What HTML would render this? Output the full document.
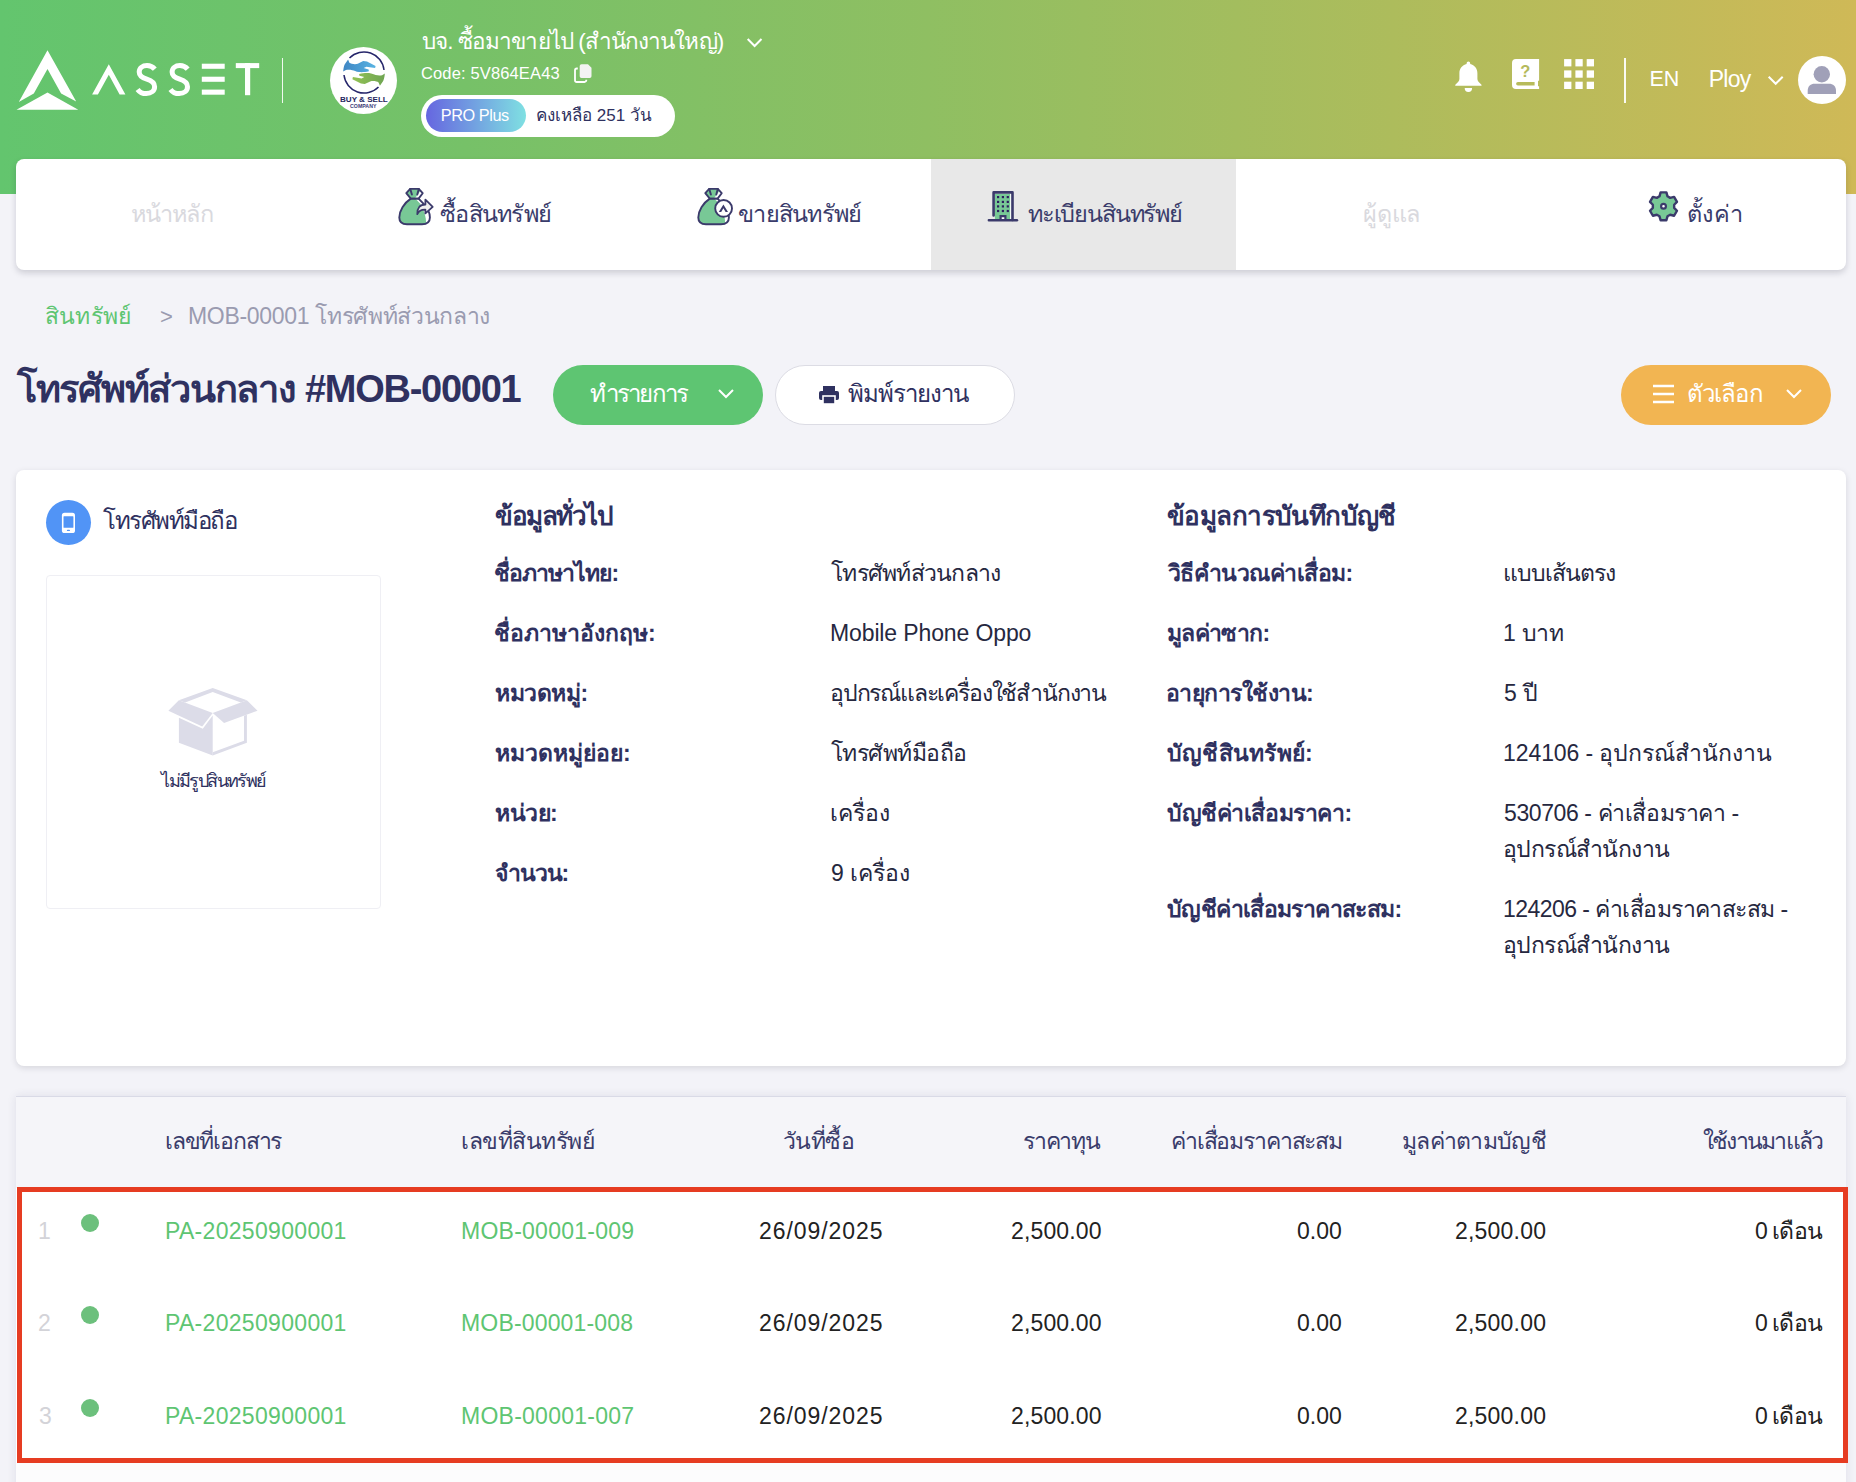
<!DOCTYPE html>
<html lang="th">
<head>
<meta charset="utf-8">
<title>Asset</title>
<style>
*{box-sizing:border-box;margin:0;padding:0}
html,body{width:1856px;height:1482px;overflow:hidden;background:#f3f3f8;font-family:"Liberation Sans",sans-serif;color:#2f3160}
.abs{position:absolute;white-space:nowrap}
.t{position:absolute;white-space:nowrap}
#hdr{position:absolute;left:0;top:0;width:1856px;height:194px;background:linear-gradient(90deg,#63c56e 0%,#76c168 25%,#8fbf62 50%,#adbc5c 75%,#cfb957 100%)}
#nav{position:absolute;left:16px;top:159px;width:1830px;height:111px;background:#fff;border-radius:8px;box-shadow:0 3px 6px rgba(20,20,40,.17);overflow:hidden}
.card{position:absolute;left:16px;width:1830px;background:#fff;border-radius:8px;box-shadow:0 2px 6px rgba(20,20,40,.13)}
.btn{position:absolute;top:365px;height:60px;border-radius:30px}

</style>
</head>
<body>
<div id="hdr"></div>
<!-- LOGO -->
<svg class="abs" style="left:14px;top:46px" width="250" height="70" viewBox="14 46 250 70">
  <g fill="#fff">
  <path d="M47.5 50.2 L76.2 101.6 L61.1 93.6 L47.5 69.1 L33.8 93.6 L18.8 102 Z"/>
  <path d="M47.5 92.4 L78.3 109.8 L16.500 109.8 Z"/>
  <path d="M108.8 64.2 L125.4 94.4 L119.6 94.4 L108.8 74.7 L97.9 94.4 L92.100 94.4 Z"/>
  <rect x="201.8" y="63.7" width="22.900" height="5.100"/><rect x="201.8" y="76.7" width="22.900" height="5.100"/><rect x="201.8" y="89.6" width="22.900" height="5.100"/>
  <rect x="235.8" y="63.100" width="23.400" height="5"/><rect x="245" y="63.100" width="5.200" height="32.100"/>
  </g>
  <g fill="none" stroke="#fff" stroke-width="5">
    <path id="sS" d="M154.8 69.2 C152.8 66.8 150 65.6 147 65.6 C142.4 65.6 139.2 68.2 139.2 72 C139.2 76 142.300 77.8 146.8 79.2 C151.500 80.7 154.6 82.6 154.6 86.7 C154.6 90.8 151.2 93.6 146.300 93.6 C142.6 93.6 139.500 92 137.6 89.4"/>
    <path transform="translate(32.9 0)" d="M154.8 69.2 C152.8 66.8 150 65.6 147 65.6 C142.4 65.6 139.2 68.2 139.2 72 C139.2 76 142.300 77.8 146.8 79.2 C151.500 80.7 154.6 82.6 154.6 86.7 C154.6 90.8 151.2 93.6 146.300 93.6 C142.6 93.6 139.500 92 137.6 89.4"/>
  </g>
</svg>
<div class="abs" style="left:281.500px;top:58px;width:1.800px;height:45px;background:rgba(255,255,255,.9)"></div>

<!-- COMPANY LOGO -->
<div class="abs" style="left:330px;top:47px;width:67px;height:67px;border-radius:50%;background:#fff"></div>
<svg class="abs" style="left:330px;top:47px" width="67" height="67" viewBox="0 0 67 67">
  <defs>
    <linearGradient id="gb" x1="0" x2="1"><stop offset="0" stop-color="#3f86c4"/><stop offset="1" stop-color="#58b3e2"/></linearGradient>
    <linearGradient id="gg" x1="0" x2="1"><stop offset="0" stop-color="#6fa552"/><stop offset="1" stop-color="#93c255"/></linearGradient>
  </defs>
  <path d="M19.500 11 A20.200 20.200 0 0 1 54 23" fill="none" stroke="#25256a" stroke-width="1.500"/>
  <path d="M48.500 40 A20.200 20.200 0 0 1 14 28" fill="none" stroke="#25256a" stroke-width="1.500"/>
  <path id="hnd" d="M18.100 12.400 L19.400 15.700 C21 17 25 17.600 27.800 16.800 L33.200 14.100 L37 14.600 L45.600 18.900 L45.100 21.100 L36.400 19.700 L33.700 21.100 L38.600 22.400 L38.900 24.300 C35 25.200 32 25.300 28.900 25.100 C26 24.500 24 23.500 22.400 23.200 C20 22.600 17.500 22.600 15.900 23 L13.200 24.600 C13.400 21 14 19 14.800 17.300 Z" fill="url(#gb)"/>
  <path d="M18.100 12.400 L19.400 15.700 C21 17 25 17.600 27.800 16.800 L33.200 14.100 L37 14.600 L45.600 18.900 L45.100 21.100 L36.400 19.700 L33.700 21.100 L38.600 22.400 L38.900 24.300 C35 25.200 32 25.300 28.900 25.100 C26 24.500 24 23.500 22.400 23.200 C20 22.600 17.500 22.600 15.900 23 L13.200 24.600 C13.400 21 14 19 14.800 17.300 Z" fill="url(#gg)" transform="rotate(180 34 25.600)"/>
  <text x="10" y="54.600" font-family="Liberation Sans, sans-serif" font-weight="bold" font-size="7.600" textLength="47.800" lengthAdjust="spacingAndGlyphs" fill="#25255e">BUY &amp; SELL</text>
  <text x="20.100" y="60.800" font-family="Liberation Sans, sans-serif" font-weight="bold" font-size="4.800" textLength="26.300" lengthAdjust="spacingAndGlyphs" fill="#3a3a78">COMPANY</text>
</svg>



<svg class="abs" style="left:745px;top:36px" width="19" height="13" viewBox="0 0 19 13"><path d="M2.7 3 L9.6 10 L16.5 3" fill="none" stroke="#fff" stroke-width="2"/></svg>
<svg class="abs" style="left:574px;top:63px" width="19" height="20" viewBox="0 0 19 20"><path d="M7.5 1.2 H14 L17.5 4.7 V13.2 A1.8 1.8 0 0 1 15.7 15 H7.5 A1.8 1.8 0 0 1 5.7 13.200 V3 A1.800 1.800 0 0 1 7.500 1.200 Z" fill="#f3f3f3"/><path d="M3.800 5.500 H2.800 A1.800 1.800 0 0 0 1 7.300 V17.200 A1.800 1.800 0 0 0 2.800 19 H10.500 A1.800 1.800 0 0 0 12.300 17.200 V16.800" fill="none" stroke="#fff" stroke-width="1.800"/></svg>
<div class="abs" style="left:421px;top:95px;width:254px;height:42px;border-radius:21px;background:#fff"></div>
<div class="abs" style="left:425.500px;top:99px;width:100px;height:33px;border-radius:17px;background:linear-gradient(90deg,#6666e0,#7fe0e2)"></div>
<svg class="abs" style="left:1454px;top:61px" width="29" height="32" viewBox="1454 61 29 32"><path d="M1468.4 61.500 a1.800 1.800 0 0 1 1.800 1.800 v0.700 c4.400 1 7.200 4.600 7.200 9.200 v5.500 c0 2 1.200 3.400 3.600 5.600 c1.200 1.100 0.600 1.500 -0.600 1.500 h-24 c-1.200 0 -1.800 -0.400 -0.600 -1.500 c2.400 -2.200 3.600 -3.600 3.600 -5.600 v-5.500 c0 -4.600 2.800 -8.200 7.200 -9.200 v-0.700 a1.800 1.800 0 0 1 1.800 -1.800 z M1464.700 88 h7.400 a3.700 3.900 0 0 1 -7.400 0 z" fill="#fff"/></svg>
<svg class="abs" style="left:1511px;top:58px" width="30" height="32" viewBox="1511 58 30 32"><path d="M1516 58.900 H1539.100 V80.800 H1538 V86.200 H1539.100 V89.100 H1516 A4 4 0 0 1 1512 85.100 V62.900 A4 4 0 0 1 1516 58.900 Z M1517.900 81.900 a1.800 1.800 0 0 0 0 3.600 H1534.600 V81.900 Z" fill="#fff" fill-rule="evenodd"/><text x="1525.300" y="76.600" font-family="Liberation Sans, sans-serif" font-weight="bold" font-size="16.500" text-anchor="middle" fill="#b5ba5c">?</text></svg>
<svg class="abs" style="left:1563px;top:58px" width="32" height="32" viewBox="1563 58 32 32" fill="#fff"><rect x="1564.1" y="59.1" width="7.300" height="7.300"/><rect x="1575.4" y="59.1" width="7.300" height="7.300"/><rect x="1586.7" y="59.1" width="7.300" height="7.300"/><rect x="1564.1" y="70.4" width="7.300" height="7.300"/><rect x="1575.4" y="70.4" width="7.300" height="7.300"/><rect x="1586.7" y="70.4" width="7.300" height="7.300"/><rect x="1564.1" y="81.7" width="7.300" height="7.300"/><rect x="1575.4" y="81.7" width="7.300" height="7.300"/><rect x="1586.7" y="81.7" width="7.300" height="7.300"/></svg>
<div class="abs" style="left:1624.300px;top:58px;width:1.900px;height:45px;background:rgba(255,255,255,.92)"></div>
<svg class="abs" style="left:1766px;top:74px" width="19" height="13" viewBox="0 0 19 13"><path d="M2.700 2.700 L9.700 9.800 L16.700 2.700" fill="none" stroke="#fff" stroke-width="2"/></svg>
<div class="abs" style="left:1798px;top:56px;width:48px;height:48px;border-radius:50%;background:#fff"></div>
<svg class="abs" style="left:1798px;top:56px" width="48" height="48" viewBox="0 0 48 48"><circle cx="23.800" cy="18.200" r="8.200" fill="#a0a0b8"/><path d="M9.700 38 v-3.300 c0 -4.500 3 -7 7 -7 h14.300 c4 0 7 2.500 7 7 v3.300 z" fill="#a0a0b8"/></svg>


<div id="nav"><div class="abs" style="left:915px;top:0;width:305px;height:111px;background:#e8e8e8"></div></div>
<svg class="abs" style="left:396px;top:185px" width="40" height="42" viewBox="0 0 40 42"><path d="M14.8 13.6 C8 18 3.3 26 3.3 32.5 C3.3 37 6.5 39.2 11 39.2 H26 C31 39.2 33.9 37 33.9 32.5 C33.9 28 31.5 23 27.4 18.7 L22.6 13.6 Z" fill="#fff"/><path d="M14.8 13.6 C8 18 3.3 26 3.3 32.5 C3.3 37 6.5 39.2 11 39.2 H26 C27.6 39.2 29 39 30.2 38.4 C30 32 28.3 25.5 24 18.6 L19.2 13.6 Z" fill="#78c896"/><path d="M14.8 13.6 L10.3 8.2 L14.2 3.9 H22.8 L26.7 8.2 L22.6 13.6 Z" fill="#fff"/><path d="M14.8 13.6 L10.3 8.2 L14.2 3.9 H22.8 L24.5 5.8 L18.9 13.6 Z" fill="#78c896"/><path d="M14.8 13.6 C8 18 3.3 26 3.3 32.5 C3.3 37 6.5 39.2 11 39.2 H26 C31 39.2 33.9 37 33.9 32.5 C33.9 28 31.5 23 27.4 18.7 L22.6 13.6 Z" fill="none" stroke="#3b3a6b" stroke-width="1.9" stroke-linejoin="round"/><path d="M14.8 13.6 L10.3 8.2 L14.2 3.9 H22.8 L26.7 8.2 L22.6 13.6 Z" fill="none" stroke="#3b3a6b" stroke-width="1.9" stroke-linejoin="round"/><path d="M14.2 3.9 L15.9 9.5 M22.8 3.9 L21.3 9.5" fill="none" stroke="#3b3a6b" stroke-width="1.9" stroke-linecap="round"/><path d="M29.4 14.7 L36.7 21.9 L29.4 28.4 V24.7 C25 24.5 22.5 26.5 21.3 29.1 C21 23 24 19.5 29.4 19.5 Z" fill="#efefef" stroke="#3b3a6b" stroke-width="1.8" stroke-linejoin="round"/></svg>
<svg class="abs" style="left:695px;top:185px" width="40" height="42" viewBox="0 0 40 42"><path d="M14.8 13.6 C8 18 3.3 26 3.3 32.5 C3.3 37 6.5 39.2 11 39.2 H26 C31 39.2 33.9 37 33.9 32.5 C33.9 28 31.5 23 27.4 18.7 L22.6 13.6 Z" fill="#fff"/><path d="M14.8 13.6 C8 18 3.3 26 3.3 32.5 C3.3 37 6.5 39.2 11 39.2 H26 C27.6 39.2 29 39 30.2 38.4 C30 32 28.3 25.5 24 18.6 L19.2 13.6 Z" fill="#78c896"/><path d="M14.8 13.6 L10.3 8.2 L14.2 3.9 H22.8 L26.7 8.2 L22.6 13.6 Z" fill="#fff"/><path d="M14.8 13.6 L10.3 8.2 L14.2 3.9 H22.8 L24.5 5.8 L18.9 13.6 Z" fill="#78c896"/><path d="M14.8 13.6 C8 18 3.3 26 3.3 32.5 C3.3 37 6.5 39.2 11 39.2 H26 C31 39.2 33.9 37 33.9 32.5 C33.9 28 31.5 23 27.4 18.7 L22.6 13.6 Z" fill="none" stroke="#3b3a6b" stroke-width="1.9" stroke-linejoin="round"/><path d="M14.8 13.6 L10.3 8.2 L14.2 3.9 H22.8 L26.7 8.2 L22.6 13.6 Z" fill="none" stroke="#3b3a6b" stroke-width="1.9" stroke-linejoin="round"/><path d="M14.2 3.9 L15.9 9.5 M22.8 3.9 L21.3 9.5" fill="none" stroke="#3b3a6b" stroke-width="1.9" stroke-linecap="round"/><circle cx="28.6" cy="23.4" r="8.4" fill="#fff" stroke="#3b3a6b" stroke-width="1.9"/><path d="M28.4 19.6 L33 26.9 L30.6 26.9 L28.4 23.2 L26.2 26.9 L23.8 26.9 Z" fill="#3b3a6b"/></svg>
<svg class="abs" style="left:986px;top:188px" width="34" height="36" viewBox="0 0 34 36"><rect x="8.9" y="5.9" width="16.4" height="25.5" fill="#fff"/><rect x="8.9" y="5.9" width="15.2" height="25.5" fill="#78c896"/><path d="M7.6 27.4 V4.4 H26.5 V32" fill="none" stroke="#3b3a6b" stroke-width="2.6" stroke-linecap="round" stroke-linejoin="round"/><path d="M2.9 32.3 H30.9" stroke="#3b3a6b" stroke-width="2.6" stroke-linecap="round"/><g fill="#2d1f5e"><rect x="11.0" y="8.0" width="2.2" height="2.2"/><rect x="15.8" y="8.0" width="2.2" height="2.2"/><rect x="20.7" y="8.0" width="2.2" height="2.2"/><rect x="11.0" y="12.8" width="2.2" height="2.2"/><rect x="15.8" y="12.8" width="2.2" height="2.2"/><rect x="20.7" y="12.8" width="2.2" height="2.2"/><rect x="11.0" y="17.3" width="2.2" height="2.2"/><rect x="15.8" y="17.3" width="2.2" height="2.2"/><rect x="20.7" y="17.3" width="2.2" height="2.2"/><rect x="11.0" y="21.9" width="2.2" height="2.2"/><rect x="15.8" y="21.9" width="2.2" height="2.2"/><rect x="20.7" y="21.9" width="2.2" height="2.2"/></g><path d="M14.6 31 V28.2 H19.4 V31" fill="#fff" stroke="#3b3a6b" stroke-width="2.2"/></svg>
<svg class="abs" style="left:1646px;top:189px" width="36" height="36" viewBox="0 0 36 36"><path d="M13.50 7.30 L14.60 3.40 L20.40 3.40 L21.50 7.30 L24.16 8.84 L28.09 7.84 L30.99 12.86 L28.16 15.76 L28.16 18.84 L30.99 21.74 L28.09 26.76 L24.16 25.76 L21.50 27.30 L20.40 31.20 L14.60 31.20 L13.50 27.30 L10.84 25.76 L6.91 26.76 L4.01 21.74 L6.84 18.84 L6.84 15.76 L4.01 12.86 L6.91 7.84 L10.84 8.84 Z" fill="#78c896" stroke="#3b3a6b" stroke-width="2.4" stroke-linejoin="round"/><circle cx="17.5" cy="17.3" r="2.4" fill="#fff" stroke="#3b3a6b" stroke-width="2.2"/></svg>


<div class="btn" style="left:553px;width:210px;background:#5ec572"></div>
<svg class="abs" style="left:717px;top:388px" width="18" height="12" viewBox="0 0 18 12"><path d="M2 2 L9 9 L16 2" fill="none" stroke="#fff" stroke-width="2"/></svg>
<div class="btn" style="left:775px;width:240px;background:#fff;border:1px solid #dcdce4"></div>
<svg class="abs" style="left:818px;top:384px" width="22" height="22" viewBox="0 0 22 22"><rect x="5" y="2" width="12" height="6" fill="#2f3160"/><rect x="1" y="7" width="20" height="9" rx="2" fill="#2f3160"/><rect x="5" y="12" width="12" height="8" fill="#2f3160" stroke="#fff" stroke-width="1.600"/></svg>
<div class="btn" style="left:1621px;width:210px;background:#f2b552"></div>
<svg class="abs" style="left:1652px;top:383px" width="22" height="22" viewBox="0 0 22 22"><path d="M1 3 H22 M1 11 H22 M1 19 H22" stroke="#fff" stroke-width="2.700"/></svg>
<svg class="abs" style="left:1785px;top:388px" width="18" height="12" viewBox="0 0 18 12"><path d="M2 2 L9 9 L16 2" fill="none" stroke="#fff" stroke-width="2"/></svg>


<div class="card" style="top:470px;height:596px"></div>
<div class="abs" style="left:46px;top:500px;width:45px;height:45px;border-radius:50%;background:#5194f6"></div>
<svg class="abs" style="left:60px;top:511px" width="17" height="24" viewBox="60 511 17 24"><rect x="61.9" y="512.8" width="13.1" height="20.2" rx="2.6" fill="#fff"/><rect x="63.5" y="516.2" width="9.9" height="11.5" rx="0.5" fill="#5194f6"/><rect x="66.9" y="529.7" width="3.1" height="1.4" rx="0.7" fill="#5194f6"/></svg>
<div class="abs" style="left:46px;top:575px;width:335px;height:334px;border:1px solid #efeff4;border-radius:4px"></div>
<svg class="abs" style="left:167px;top:686px" width="92" height="72" viewBox="0 0 92 72"><g fill="#dcdce8"><path d="M45.7 2 L79.9 14.3 L73.8 16.6 L45.7 5.9 L18.1 16.6 L11.9 14.3 Z"/><path d="M11.9 14.3 L45.7 27 L35.2 40.6 L1.4 24.8 Z"/><path d="M79.9 14.3 L45.7 27 L57.1 37.1 L90.5 24.8 Z"/><path d="M11.9 31.8 L35.8 42.8 L45.7 29.6 L45.7 69.5 L11.9 56.8 Z"/><path d="M79.9 28.7 V56.8 L45.700 69.500 V66.300 L77 54.700 V29.800 Z"/></g></svg>


<div class="abs" style="left:16px;top:1096px;width:1830px;height:420px;background:#fff;border-top:1px solid #d9dae6;box-shadow:0 0 9px rgba(40,40,90,.10)"></div>
<div class="abs" style="left:16px;top:1097px;width:1830px;height:91px;background:#f5f5f9"></div>
<div class="abs" style="left:16px;top:1463px;width:1830px;height:19px;background:#fcfcfd"></div>
<div class="abs" style="left:81px;top:1214px;width:18px;height:18px;border-radius:50%;background:#6cc07c"></div>
<div class="abs" style="left:81px;top:1306px;width:18px;height:18px;border-radius:50%;background:#6cc07c"></div>
<div class="abs" style="left:81px;top:1399px;width:18px;height:18px;border-radius:50%;background:#6cc07c"></div>
<div class="abs" style="left:17px;top:1187px;width:1831px;height:276px;border:5px solid #e63c22"></div>

<div class="t" id="t0" style="left:422px;top:23.5px;font-size:22.5px;line-height:36px;color:#fff;letter-spacing:-0.90px">บจ. ซื้อมาขายไป (สำนักงานใหญ่)</div>
<div class="t" id="t1" style="left:421px;top:60px;font-size:16.5px;line-height:26px;color:#fff;letter-spacing:0.14px">Code: 5V864EA43</div>
<div class="t" id="t2" style="left:440.8px;top:102px;font-size:16.3px;line-height:26px;color:#fff;letter-spacing:-0.44px">PRO Plus</div>
<div class="t" id="t3" style="left:536px;top:102px;font-size:17px;line-height:27px;color:#2f3160">คงเหลือ 251 วัน</div>
<div class="t" id="t4" style="left:1649.6px;top:62px;font-size:21.5px;line-height:34px;color:#fff;letter-spacing:-0.30px">EN</div>
<div class="t" id="t5" style="left:1708.8px;top:60.5px;font-size:23px;line-height:37px;color:#fff;letter-spacing:-0.77px">Ploy</div>
<div class="t" id="t6" style="left:131px;top:195px;font-size:23.5px;line-height:38px;color:#d9d9de;letter-spacing:-0.90px">หน้าหลัก</div>
<div class="t" id="t7" style="left:440px;top:195px;font-size:23.5px;line-height:38px;color:#3a3c6b;letter-spacing:-0.71px">ซื้อสินทรัพย์</div>
<div class="t" id="t8" style="left:738px;top:195px;font-size:23.5px;line-height:38px;color:#3a3c6b;letter-spacing:-0.75px">ขายสินทรัพย์</div>
<div class="t" id="t9" style="left:1028px;top:195px;font-size:23.5px;line-height:38px;color:#3a3c6b;letter-spacing:-1.18px">ทะเบียนสินทรัพย์</div>
<div class="t" id="t10" style="left:1363px;top:195px;font-size:23.5px;line-height:38px;color:#d9d9de;letter-spacing:-0.17px">ผู้ดูแล</div>
<div class="t" id="t11" style="left:1687px;top:195px;font-size:23.5px;line-height:38px;color:#3a3c6b;letter-spacing:0.33px">ตั้งค่า</div>
<div class="t" id="t12" style="left:45px;top:297.5px;font-size:23px;line-height:37px;color:#5ec572;letter-spacing:0.20px">สินทรัพย์</div>
<div class="t" id="t13" style="left:160px;top:298.5px;font-size:22px;line-height:35px;color:#9a9bb0">&gt;</div>
<div class="t" id="t14" style="left:188px;top:297.5px;font-size:23px;line-height:37px;color:#9a9bb0;letter-spacing:-0.32px">MOB-00001 โทรศัพท์ส่วนกลาง</div>
<div class="t" id="t15" style="left:17px;top:358.5px;font-size:38px;line-height:61px;color:#2f3160;font-weight:bold;letter-spacing:-1.26px">โทรศัพท์ส่วนกลาง #MOB-00001</div>
<div class="t" id="t16" style="left:590px;top:375px;font-size:24px;line-height:38px;color:#fff;letter-spacing:-1.86px">ทำรายการ</div>
<div class="t" id="t17" style="left:848px;top:375px;font-size:24px;line-height:38px;color:#2f3160;letter-spacing:-0.94px">พิมพ์รายงาน</div>
<div class="t" id="t18" style="left:1687px;top:375px;font-size:24px;line-height:38px;color:#fff;letter-spacing:-0.90px">ตัวเลือก</div>
<div class="t" id="t19" style="left:103px;top:502px;font-size:24px;line-height:38px;color:#2f3160;letter-spacing:-1.44px">โทรศัพท์มือถือ</div>
<div class="t" id="t20" style="left:161.2px;top:766.5px;font-size:18px;line-height:29px;color:#2f3160;letter-spacing:-1.61px">ไม่มีรูปสินทรัพย์</div>
<div class="t" id="t21" style="left:495px;top:495px;font-size:26px;line-height:42px;color:#2f3160;font-weight:bold;letter-spacing:-1.50px">ข้อมูลทั่วไป</div>
<div class="t" id="t22" style="left:1167px;top:495px;font-size:26px;line-height:42px;color:#2f3160;font-weight:bold;letter-spacing:-0.58px">ข้อมูลการบันทึกบัญชี</div>
<div class="t" id="t23" style="left:494px;top:554.5px;font-size:23px;line-height:37px;color:#2f3160;font-weight:bold;letter-spacing:-0.94px">ชื่อภาษาไทย:</div>
<div class="t" id="t24" style="left:831px;top:554.5px;font-size:23px;line-height:37px;color:#26283f;letter-spacing:-0.75px">โทรศัพท์ส่วนกลาง</div>
<div class="t" id="t25" style="left:494px;top:614.5px;font-size:23px;line-height:37px;color:#2f3160;font-weight:bold">ชื่อภาษาอังกฤษ:</div>
<div class="t" id="t26" style="left:830px;top:614.5px;font-size:23px;line-height:37px;color:#26283f;letter-spacing:-0.12px">Mobile Phone Oppo</div>
<div class="t" id="t27" style="left:495px;top:674.5px;font-size:23px;line-height:37px;color:#2f3160;font-weight:bold;letter-spacing:-0.42px">หมวดหมู่:</div>
<div class="t" id="t28" style="left:830px;top:674.5px;font-size:23px;line-height:37px;color:#26283f;letter-spacing:-1.19px">อุปกรณ์และเครื่องใช้สำนักงาน</div>
<div class="t" id="t29" style="left:495px;top:734.5px;font-size:23px;line-height:37px;color:#2f3160;font-weight:bold">หมวดหมู่ย่อย:</div>
<div class="t" id="t30" style="left:831px;top:734.5px;font-size:23px;line-height:37px;color:#26283f;letter-spacing:-0.56px">โทรศัพท์มือถือ</div>
<div class="t" id="t31" style="left:495px;top:794.5px;font-size:23px;line-height:37px;color:#2f3160;font-weight:bold;letter-spacing:-0.50px">หน่วย:</div>
<div class="t" id="t32" style="left:830px;top:794.5px;font-size:23px;line-height:37px;color:#26283f">เครื่อง</div>
<div class="t" id="t33" style="left:495px;top:854.5px;font-size:23px;line-height:37px;color:#2f3160;font-weight:bold;letter-spacing:-1.10px">จำนวน:</div>
<div class="t" id="t34" style="left:831px;top:854.5px;font-size:23px;line-height:37px;color:#26283f">9 เครื่อง</div>
<div class="t" id="t35" style="left:1168px;top:554.5px;font-size:23px;line-height:37px;color:#2f3160;font-weight:bold;letter-spacing:-0.54px">วิธีคำนวณค่าเสื่อม:</div>
<div class="t" id="t36" style="left:1503px;top:554.5px;font-size:23px;line-height:37px;color:#26283f;letter-spacing:-0.94px">แบบเส้นตรง</div>
<div class="t" id="t37" style="left:1167px;top:614.5px;font-size:23px;line-height:37px;color:#2f3160;font-weight:bold;letter-spacing:-0.64px">มูลค่าซาก:</div>
<div class="t" id="t38" style="left:1503px;top:614.5px;font-size:23px;line-height:37px;color:#26283f;letter-spacing:-0.25px">1 บาท</div>
<div class="t" id="t39" style="left:1166px;top:674.5px;font-size:23px;line-height:37px;color:#2f3160;font-weight:bold;letter-spacing:-0.55px">อายุการใช้งาน:</div>
<div class="t" id="t40" style="left:1504px;top:674.5px;font-size:23px;line-height:37px;color:#26283f">5 ปี</div>
<div class="t" id="t41" style="left:1167px;top:734.5px;font-size:23px;line-height:37px;color:#2f3160;font-weight:bold;letter-spacing:0.22px">บัญชีสินทรัพย์:</div>
<div class="t" id="t42" style="left:1503px;top:734.5px;font-size:23px;line-height:37px;color:#26283f;letter-spacing:-0.08px">124106 - อุปกรณ์สำนักงาน</div>
<div class="t" id="t43" style="left:1167px;top:794.5px;font-size:23px;line-height:37px;color:#2f3160;font-weight:bold;letter-spacing:-0.42px">บัญชีค่าเสื่อมราคา:</div>
<div class="t" id="t44" style="left:1504px;top:794.5px;font-size:23px;line-height:37px;color:#26283f;letter-spacing:-0.40px">530706 - ค่าเสื่อมราคา -</div>
<div class="t" id="t45" style="left:1503px;top:830.5px;font-size:23px;line-height:37px;color:#26283f;letter-spacing:-0.59px">อุปกรณ์สำนักงาน</div>
<div class="t" id="t46" style="left:1167px;top:890.5px;font-size:23px;line-height:37px;color:#2f3160;font-weight:bold;letter-spacing:-0.62px">บัญชีค่าเสื่อมราคาสะสม:</div>
<div class="t" id="t47" style="left:1503px;top:890.5px;font-size:23px;line-height:37px;color:#26283f;letter-spacing:-0.54px">124206 - ค่าเสื่อมราคาสะสม -</div>
<div class="t" id="t48" style="left:1503px;top:926.5px;font-size:23px;line-height:37px;color:#26283f;letter-spacing:-0.59px">อุปกรณ์สำนักงาน</div>
<div class="t" id="t49" style="left:165px;top:1122.5px;font-size:23px;line-height:37px;color:#3a3c6b;letter-spacing:-1.17px">เลขที่เอกสาร</div>
<div class="t" id="t50" style="left:461px;top:1122.5px;font-size:23px;line-height:37px;color:#3a3c6b;letter-spacing:-0.50px">เลขที่สินทรัพย์</div>
<div class="t" id="t51" style="left:783px;top:1122.5px;font-size:23px;line-height:37px;color:#3a3c6b;letter-spacing:-0.62px">วันที่ซื้อ</div>
<div class="t" id="t52" style="left:1023px;top:1122.5px;font-size:23px;line-height:37px;color:#3a3c6b;letter-spacing:-1.20px">ราคาทุน</div>
<div class="t" id="t53" style="left:1171px;top:1122.5px;font-size:23px;line-height:37px;color:#3a3c6b;letter-spacing:-1.15px">ค่าเสื่อมราคาสะสม</div>
<div class="t" id="t54" style="left:1402px;top:1122.5px;font-size:23px;line-height:37px;color:#3a3c6b;letter-spacing:-0.72px">มูลค่าตามบัญชี</div>
<div class="t" id="t55" style="left:1703px;top:1122.5px;font-size:23px;line-height:37px;color:#3a3c6b;letter-spacing:-1.78px">ใช้งานมาแล้ว</div>
<div class="t" id="t56" style="left:38px;top:1212.5px;font-size:23px;line-height:37px;color:#d3d3d8">1</div>
<div class="t" id="t57" style="left:165px;top:1212.5px;font-size:23px;line-height:37px;color:#5ec572;letter-spacing:0.31px">PA-20250900001</div>
<div class="t" id="t58" style="left:461px;top:1212.5px;font-size:23px;line-height:37px;color:#5ec572;letter-spacing:0.25px">MOB-00001-009</div>
<div class="t" id="t59" style="left:759px;top:1212.5px;font-size:23px;line-height:37px;color:#222;letter-spacing:0.94px">26/09/2025</div>
<div class="t" id="t60" style="left:1011px;top:1212.5px;font-size:23px;line-height:37px;color:#222;letter-spacing:0.14px">2,500.00</div>
<div class="t" id="t61" style="left:1297px;top:1212.5px;font-size:23px;line-height:37px;color:#222">0.00</div>
<div class="t" id="t62" style="left:1455px;top:1212.5px;font-size:23px;line-height:37px;color:#222;letter-spacing:0.21px">2,500.00</div>
<div class="t" id="t63" style="left:1755px;top:1212.5px;font-size:23px;line-height:37px;color:#222;letter-spacing:-0.90px">0 เดือน</div>
<div class="t" id="t64" style="left:38px;top:1304.5px;font-size:23px;line-height:37px;color:#d3d3d8">2</div>
<div class="t" id="t65" style="left:165px;top:1304.5px;font-size:23px;line-height:37px;color:#5ec572;letter-spacing:0.31px">PA-20250900001</div>
<div class="t" id="t66" style="left:461px;top:1304.5px;font-size:23px;line-height:37px;color:#5ec572;letter-spacing:0.17px">MOB-00001-008</div>
<div class="t" id="t67" style="left:759px;top:1304.5px;font-size:23px;line-height:37px;color:#222;letter-spacing:0.94px">26/09/2025</div>
<div class="t" id="t68" style="left:1011px;top:1304.5px;font-size:23px;line-height:37px;color:#222;letter-spacing:0.14px">2,500.00</div>
<div class="t" id="t69" style="left:1297px;top:1304.5px;font-size:23px;line-height:37px;color:#222">0.00</div>
<div class="t" id="t70" style="left:1455px;top:1304.5px;font-size:23px;line-height:37px;color:#222;letter-spacing:0.21px">2,500.00</div>
<div class="t" id="t71" style="left:1755px;top:1304.5px;font-size:23px;line-height:37px;color:#222;letter-spacing:-0.90px">0 เดือน</div>
<div class="t" id="t72" style="left:39px;top:1397.5px;font-size:23px;line-height:37px;color:#d3d3d8">3</div>
<div class="t" id="t73" style="left:165px;top:1397.5px;font-size:23px;line-height:37px;color:#5ec572;letter-spacing:0.31px">PA-20250900001</div>
<div class="t" id="t74" style="left:461px;top:1397.5px;font-size:23px;line-height:37px;color:#5ec572;letter-spacing:0.25px">MOB-00001-007</div>
<div class="t" id="t75" style="left:759px;top:1397.5px;font-size:23px;line-height:37px;color:#222;letter-spacing:0.94px">26/09/2025</div>
<div class="t" id="t76" style="left:1011px;top:1397.5px;font-size:23px;line-height:37px;color:#222;letter-spacing:0.14px">2,500.00</div>
<div class="t" id="t77" style="left:1297px;top:1397.5px;font-size:23px;line-height:37px;color:#222">0.00</div>
<div class="t" id="t78" style="left:1455px;top:1397.5px;font-size:23px;line-height:37px;color:#222;letter-spacing:0.21px">2,500.00</div>
<div class="t" id="t79" style="left:1755px;top:1397.5px;font-size:23px;line-height:37px;color:#222;letter-spacing:-0.90px">0 เดือน</div>
</body>
</html>
